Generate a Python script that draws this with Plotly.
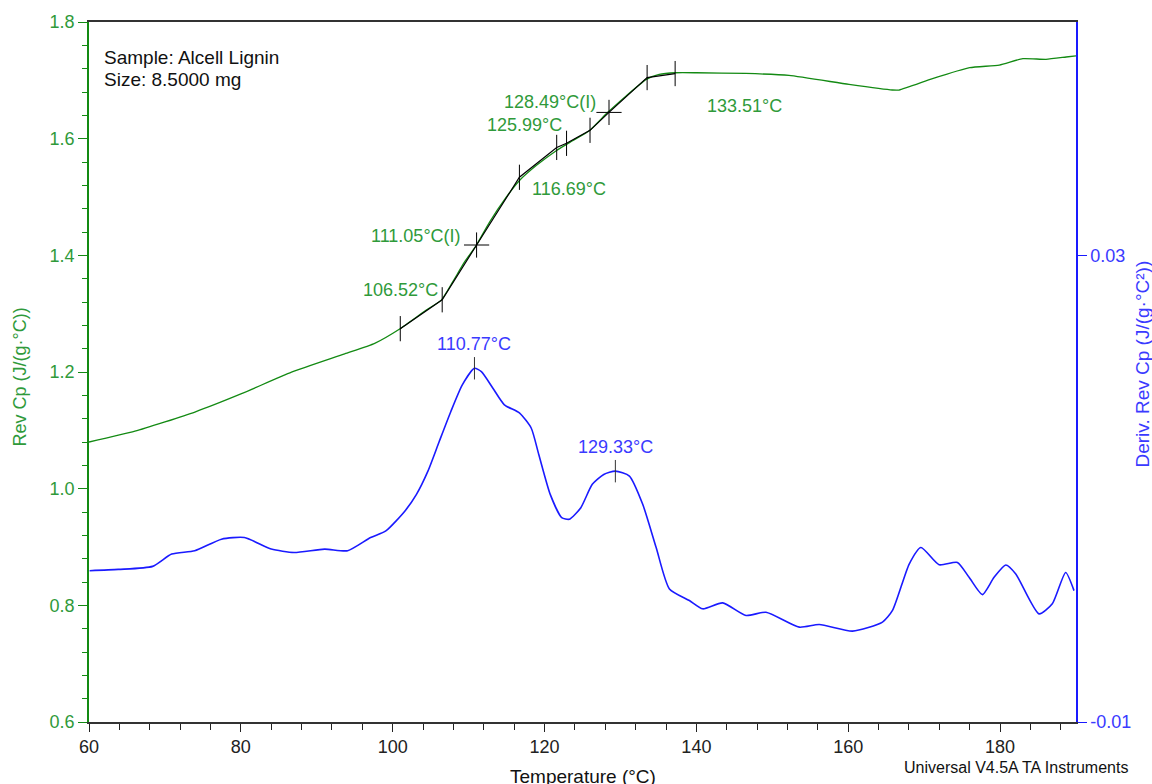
import plotly.graph_objects as go

# ---------------- data ----------------
# Rev Cp (green, left axis)
cp_T = [60.0, 66.05, 73.95, 80.09, 86.67, 93.68, 97.63, 100.92, 104.43, 106.4, 107.9,
        109.47, 111.01, 112.76, 114.96, 116.7, 118.9, 121.54, 123.7, 125.9, 128.3,
        130.75, 133.4, 135.1, 137.3, 140.0, 146.5, 152.2, 160.1, 165.8, 166.7, 171.1,
        176.0, 179.9, 183.0, 186.05, 188.7, 190.0]
cp_val = [1.080, 1.0985, 1.1314, 1.1628, 1.1997, 1.2311, 1.2492, 1.2738, 1.3062, 1.3233,
          1.3545, 1.3887, 1.4172, 1.4570, 1.4996, 1.5282, 1.5538, 1.5794, 1.5965, 1.6136,
          1.6447, 1.6732, 1.7016, 1.7101, 1.7130, 1.7130, 1.7118, 1.7084, 1.6930, 1.6834,
          1.6834, 1.7028, 1.7216, 1.7262, 1.7372, 1.7360, 1.7400, 1.7420]

# Deriv. Rev Cp (blue, right axis)
dcp_T = [60.08, 63.86, 68.38, 70.89, 73.92, 77.45, 80.47, 84.0, 87.01, 91.04, 94.07,
         97.09, 99.1, 101.62, 103.13, 104.64, 106.14, 107.66, 109.17, 110.77, 111.68,
         113.2, 114.71, 116.72, 118.24, 119.24, 120.75, 122.26, 123.28, 124.78, 126.29,
         127.8, 129.33, 131.18, 132.93, 134.7, 136.45, 139.08, 140.83, 143.46, 146.54,
         149.17, 153.55, 156.18, 160.57, 164.51, 165.83, 168.03, 169.57, 171.97, 174.38,
         175.92, 177.67, 179.21, 180.75, 182.07, 185.13, 186.88, 188.64, 189.74]
dcp_val = [0.00297, 0.00308, 0.00334, 0.00439, 0.00468, 0.00567, 0.00581, 0.00482, 0.00453,
           0.00482, 0.00468, 0.00581, 0.00638, 0.00809, 0.00951, 0.01150, 0.01406, 0.01662,
           0.01890, 0.02032, 0.02003, 0.01861, 0.01719, 0.01648, 0.01520, 0.01293, 0.00951,
           0.00752, 0.00738, 0.00837, 0.01037, 0.01122, 0.01150, 0.01108, 0.00866, 0.00496,
           0.00141, 0.00041, -0.00030, 0.00021, -0.00087, -0.00059, -0.00187, -0.00164,
           -0.00221, -0.00144, -0.00044, 0.00354, 0.00496, 0.00348, 0.00368, 0.00240,
           0.00092, 0.00240, 0.00346, 0.00269, -0.00073, 0.00013, 0.00282, 0.00126]

# Glass-transition analysis construction (black line)
an_T = [101.0, 106.52, 111.05, 116.69, 121.6, 122.9, 125.99, 128.49, 133.51, 137.2]
an_val = [1.2743, 1.3238, 1.4177, 1.5338, 1.5850, 1.5920, 1.6143, 1.6450, 1.7047, 1.7116]
an_marker = ["line-ns", "line-ns", "cross-thin", "line-ns", "line-ns", "line-ns",
             "line-ns", "cross-thin", "line-ns", "line-ns"]

# labelled analysis points (index into an_*) and labels
lab_idx = [1, 2, 3, 6, 7, 8]
lab_text = ["106.52°C", "111.05°C(I)", "116.69°C", "125.99°C", "128.49°C(I)", "133.51°C"]
lab_shift = [(-42, 10), (-61, 9), (50, -12), (-66, 5), (-59, 10), (97, -28)]

# derivative peaks
pk_T = [110.77, 129.33]
pk_val = [0.02032, 0.01150]
pk_text = ["110.77°C", "129.33°C"]

x_ticks = [60, 80, 100, 120, 140, 160, 180]
y2_ticks = [-0.01, 0.03]
y2_ticktext = ["-0.01", "0.03"]

FONT = "Liberation Sans, Arial, sans-serif"
GREEN = "#138a13"
GREEN_TXT = "#2f9a3a"
BLUE = "#1a1aff"
BLUE_TXT = "#3a3aff"

fig = go.Figure()

fig.add_trace(go.Scatter(x=cp_T, y=cp_val, mode="lines",
                         line=dict(color=GREEN, width=1.3, shape="spline", smoothing=0.5),
                         hoverinfo="skip", showlegend=False))
fig.add_trace(go.Scatter(x=an_T, y=an_val, mode="lines+markers",
                         line=dict(color="black", width=1.2),
                         marker=dict(symbol=an_marker, size=18, color="black",
                                     line=dict(color="black", width=1)),
                         hoverinfo="skip", showlegend=False))
fig.add_trace(go.Scatter(x=dcp_T, y=dcp_val, mode="lines", yaxis="y2",
                         line=dict(color=BLUE, width=1.6, shape="spline", smoothing=0.6),
                         hoverinfo="skip", showlegend=False))
fig.add_trace(go.Scatter(x=pk_T, y=pk_val, mode="markers", yaxis="y2",
                         marker=dict(symbol="line-ns", size=16, color="black",
                                     line=dict(color="#333", width=1)),
                         hoverinfo="skip", showlegend=False))

annotations = []
for i, t, (dx, dy) in zip(lab_idx, lab_text, lab_shift):
    annotations.append(dict(x=an_T[i], y=an_val[i], xref="x", yref="y", text=t,
                            showarrow=False, xshift=dx, yshift=dy,
                            xanchor="center", yanchor="middle",
                            font=dict(family=FONT, size=18, color=GREEN_TXT)))
for t, v, s in zip(pk_T, pk_val, pk_text):
    annotations.append(dict(x=t, y=v, xref="x", yref="y2", text=s, showarrow=False,
                            yshift=24, xanchor="center", yanchor="middle",
                            font=dict(family=FONT, size=18, color=BLUE_TXT)))

# page labels positioned in pixels, converted to paper coords below
L, R, T, B = 89, 76, 19, 62
W, H = 1152, 784
pw, ph = W - L - R, H - T - B
page_labels = [
    dict(x=102, y=55, xanchor="left", text="Sample: Alcell Lignin",
         font=dict(family=FONT, size=19, color="#111")),
    dict(x=102, y=77, xanchor="left", text="Size: 8.5000 mg",
         font=dict(family=FONT, size=19, color="#111")),
    dict(x=20, y=376, textangle=-90, text="Rev Cp (J/(g·°C))",
         font=dict(family=FONT, size=18, color=GREEN_TXT)),
    dict(x=583, y=777, text="Temperature (°C)",
         font=dict(family=FONT, size=19, color="#111")),
    dict(x=1143, y=363, textangle=-90, text="Deriv. Rev Cp (J/(g·°C²))",
         font=dict(family=FONT, size=19, color=BLUE_TXT)),
    dict(x=1016, y=768, text="Universal V4.5A TA Instruments",
         font=dict(family=FONT, size=16, color="#111")),
]
for a in page_labels:
    px, py = a["x"], a["y"]
    a.update(xref="paper", yref="paper", showarrow=False, yanchor="middle",
             x=(px - L) / pw, y=(H - B - py) / ph)
    a.setdefault("xanchor", "center")
    annotations.append(a)

fig.update_layout(
    width=W, height=H,
    margin=dict(l=L, r=R, t=T, b=B, pad=0),
    paper_bgcolor="white", plot_bgcolor="white",
    font=dict(family=FONT, size=18, color="#111"),
    showlegend=False,
    annotations=annotations,
    xaxis=dict(range=[60, 190], tickvals=x_ticks, ticks="outside", ticklen=8,
               tickcolor="#222", tickwidth=1, showline=True, linecolor="#333",
               linewidth=1.5, mirror=True, showgrid=False, zeroline=False,
               tickfont=dict(family=FONT, size=18, color="#222"),
               minor=dict(dtick=4, tick0=60, ticks="outside", ticklen=6,
                          tickcolor="#222", showgrid=False)),
    yaxis=dict(range=[0.6, 1.8], dtick=0.2, tick0=0.6, tickformat=".1f",
               ticks="outside", ticklen=9, tickcolor=GREEN, tickwidth=1,
               showline=True, linecolor=GREEN, linewidth=1.5, showgrid=False,
               zeroline=False, tickfont=dict(family=FONT, size=18, color=GREEN_TXT),
               minor=dict(dtick=0.04, tick0=0.6, ticks="outside", ticklen=5,
                          tickcolor=GREEN, showgrid=False)),
    yaxis2=dict(range=[-0.01, 0.05], overlaying="y", side="right",
                tickvals=y2_ticks, ticktext=y2_ticktext, ticks="outside", ticklen=9,
                tickcolor=BLUE, showline=True, linecolor=BLUE, linewidth=1.5,
                showgrid=False, zeroline=False,
                tickfont=dict(family=FONT, size=18, color=BLUE_TXT)),
)

fig.write_html("out.html")
